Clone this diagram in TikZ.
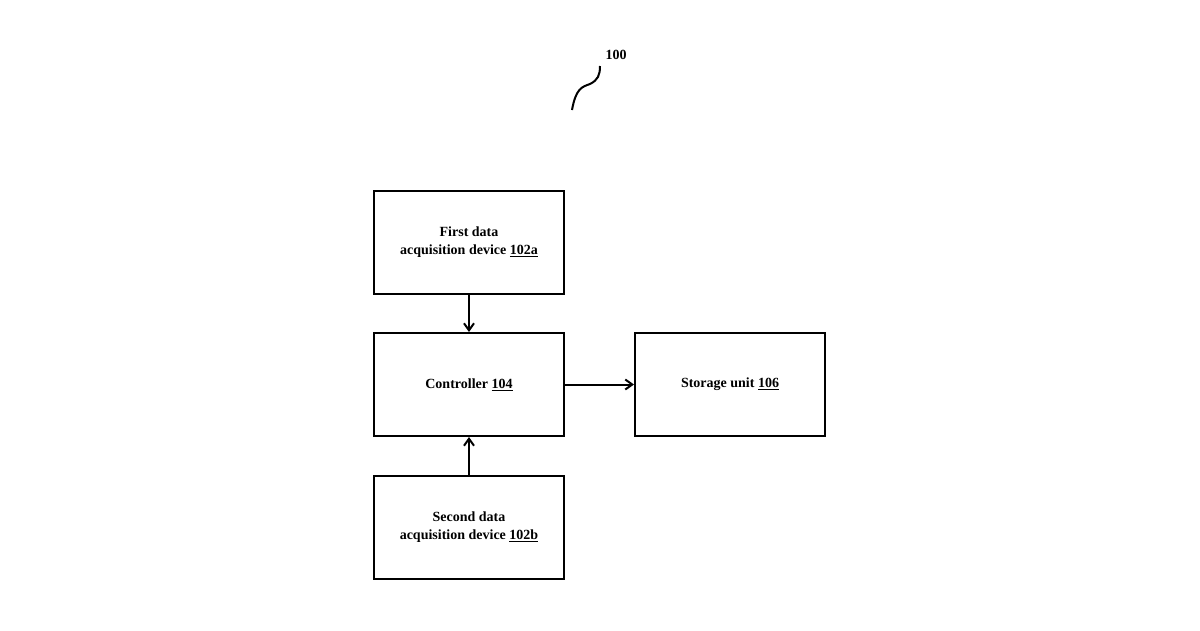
\documentclass[tikz,border=0pt]{standalone}
\usepackage{fontspec}
\usetikzlibrary{arrows.meta}
\setmainfont{Liberation Serif}
\begin{document}
\begin{tikzpicture}[x=1pt,y=-1pt,
  box/.style={draw,line width=2pt,minimum width=190pt,minimum height=103pt,align=center,font=\fontsize{14}{18}\selectfont\bfseries,inner sep=0pt},
  arr/.style={line width=2pt,->,>={Straight Barb[length=7pt,width=10pt]}}]
\useasboundingbox (0,0) rectangle (1200,630);
\node[box] (a) at (469,242) {First data\\acquisition device \underline{102a}};
\node[box] (c) at (469,384.5) {Controller \underline{104}};
\node[box] (b) at (469,527.5) {Second data\\acquisition device \underline{102b}};
\node[box] (s) at (730,384.5) {Storage unit \underline{106}};
\draw[arr] (a) -- (c);
\draw[arr] (b) -- (c);
\draw[arr] (c) -- (s);
\node[font=\fontsize{14}{16}\selectfont\bfseries] (lbl) at (616,55) {100};
\coordinate (q1) at (572,110);
\coordinate (q2) at (600,66);
\draw[line width=2pt] (q1) .. controls (576,88) and (582,87) .. (590,84) .. controls (598,80) and (600,75) .. (q2);
\end{tikzpicture}
\end{document}
